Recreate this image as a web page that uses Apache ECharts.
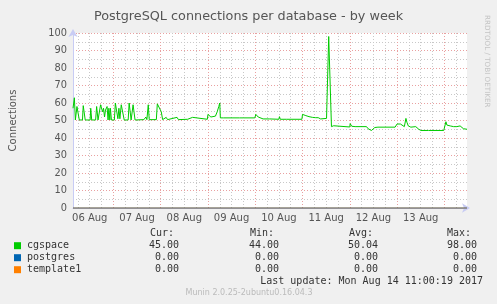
<!DOCTYPE html>
<html><head><meta charset="utf-8">
<script src="https://cdn.jsdelivr.net/npm/echarts@6/dist/echarts.min.js"></script>
<style>html,body{margin:0;padding:0;background:#F0F0F0;}#c{width:497px;height:304px;}</style>
</head><body><div id="c"></div>
<script>
// time in hours since 06 Aug 00:00
const hours = [3.5,4.2,4.7,5.5,6.2,6.7,8.3,8.7,9.2,9.7,12.2,12.5,13,15,15.5,16.2,17,17.5,18,18.5,19,19.5,20,20.8,21.3,21.7,22.2,22.5,23,24.5,25,25.8,26.3,26.8,27.3,28,29,29.5,31.5,32,32.5,33,33.5,34,34.5,35,39.5,40.5,41,41.7,42.2,45.8,46.3,47,48.3,49,50.8,51.5,56.3,57,61.7,62,62.5,64.2,64.8,71.7,72,72.8,73.5,74.2,75.8,76.7,77.5,78,78.3,80,84.7,85.5,88,88.5,90,95.8,96.3,97.5,98.3,100,103.3,103.7,104.2,108,108.3,108.7,112,112.2,112.5,119.7,120,120.8,121,121.7,122.5,123.3,124.2,125,126.7,128,129.2,130,132.2,132.7,133.3,134,134.7,135.8,136,144,144.2,145,146.7,152.5,153.3,155,155.8,156.7,158.3,167,168,168.8,169.7,170.5,171.7,172.5,173,173.7,175,177.5,178.3,178.8,180,184,184.2,185,191.7,192,192.8,193.3,194.2,195,196.7,198.3,200,200.8,201.7,203.5];
const cgspace = [57,63,50.3,58,58.5,50.3,50.3,58.5,58.5,50.3,50.3,57,50.3,50.3,58,50.3,50.3,59,59.5,55,57,52,56,58,50.3,57,50.3,57,50.3,50.3,60,59,51,57,51,59,59,50.3,50.3,60,60,50.3,50.3,59,59,50.3,50.5,52,50.5,59,50.5,50.5,59.5,59,55,50.5,51.8,50.5,51.8,50.5,50.7,51.5,50.7,51.8,50.7,50.7,53.5,53,52,51.5,52.5,55,58,60,51.5,51.5,51.5,52,51.5,52.5,51.5,51.5,53.5,52,53,50.9,50.9,51.8,50.9,50.7,52.2,50.7,50.7,51.8,50.7,50.7,53.5,52.8,54,52.8,53.2,52.2,52.2,51.8,51.6,51.6,50.9,50.7,51.2,50.7,98,97,46.5,47,46.3,46.3,48.2,46.7,46.5,46.5,45.3,44.3,45.3,46,46.2,46.2,48,47.4,48,46.9,46.5,51.2,49,46.9,46.2,46.5,46.2,45.2,44.3,44.3,45.2,44.3,44.3,45.7,49.3,47.4,46.5,46.9,46.5,46.5,46.9,46.2,45.3,45];
const zeroHours = [3.5, 203.5];
const postgres = [0, 0];
const template1 = [0, 0];
const dayLabelHours = [12,36,60,84,108,132,156,180];
const dayLabels = ['06 Aug','07 Aug','08 Aug','09 Aug','10 Aug','11 Aug','12 Aug','13 Aug'];
const dayBoundaryHours = [24,48,72,96,120,144,168,192];
const sixHourHours = [6,12,18,30,36,42,54,60,66,78,84,90,102,108,114,126,132,138,150,156,162,174,180,186,198];
const seriesNames = ['cgspace','postgres','template1'];
const seriesColors = ['#00CC00','#0066B3','#FF8000'];
const statHeaders = ['Cur:','Min:','Avg:','Max:'];
const statValues = [
  ['45.00','44.00','50.04','98.00'],
  ['0.00','0.00','0.00','0.00'],
  ['0.00','0.00','0.00','0.00']
];
const lastUpdate = 'Last update: Mon Aug 14 11:00:19 2017';
const footer = 'Munin 2.0.25-2ubuntu0.16.04.3';

const chart = echarts.init(document.getElementById('c'));
const SANS = 'DejaVu Sans', MONO = 'DejaVu Sans Mono';
const grey = {color:'#C8C8C8', type:[1,2], width:1};
const red = {color:'#E9A0A0', type:[1,2], width:1};
const baseX = {type:'value', min:3.5, max:203.5, gridIndex:0};

const graphics = [];
const colRight = [179, 279, 378, 477];
const colLeft = [150, 250, 349, 447];
statHeaders.forEach((h,i)=>graphics.push({type:'text', x:colLeft[i], y:233.5, style:{text:h, font:'10px '+MONO, fill:'#333', textVerticalAlign:'middle'}}));
seriesNames.forEach((n,r)=>{
  const y = 245.7 + r*12;
  graphics.push({type:'rect', shape:{x:14, y:y-3.5, width:7, height:7}, style:{fill:seriesColors[r]}});
  graphics.push({type:'text', x:27, y:y, style:{text:n, font:'10px '+MONO, fill:'#333', textVerticalAlign:'middle'}});
  statValues[r].forEach((v,i)=>graphics.push({type:'text', x:colRight[i], y:y, style:{text:v, font:'10px '+MONO, fill:'#333', textAlign:'right', textVerticalAlign:'middle'}}));
});
graphics.push({type:'text', x:483, y:281.7, style:{text:lastUpdate, font:'10px '+MONO, fill:'#333', textAlign:'right', textVerticalAlign:'middle'}});
graphics.push({type:'text', x:249, y:293, style:{text:footer, font:'8px '+SANS, fill:'#BBBBBB', textAlign:'center', textVerticalAlign:'middle'}});
graphics.push({type:'text', x:487, y:15, rotation:-Math.PI/2, style:{text:'RRDTOOL / TOBI OETIKER', font:'7.2px '+SANS, fill:'#C4C4C4', textAlign:'left', textVerticalAlign:'middle'}});

chart.setOption({
  animation:false,
  backgroundColor:'#F0F0F0',
  title:{text:'PostgreSQL connections per database - by week', left:'center', top:5,
    textStyle:{fontFamily:SANS, fontSize:12.8, fontWeight:'normal', color:'#555'}},
  grid:{left:67, top:33, width:400, height:175, show:true, backgroundColor:'#FFFFFF', borderWidth:0},
  xAxis:[
    Object.assign({}, baseX, {
      axisLine:{show:true, lineStyle:{color:'#C8CCF4', width:1}, symbol:['none','arrow'], symbolSize:[7,8], symbolOffset:[0,3]},
      axisTick:{show:false},
      axisLabel:{customValues:dayLabelHours, margin:5, fontFamily:SANS, fontSize:10, color:'#555',
        formatter:(v)=>dayLabels[dayLabelHours.indexOf(Math.round(v))] || ''},
      splitLine:{show:false}
    }),
    Object.assign({}, baseX, {
      axisLine:{show:false}, axisLabel:{show:false},
      axisTick:{show:false, customValues:sixHourHours},
      splitLine:{show:true, customValues:sixHourHours, lineStyle:grey}
    }),
    Object.assign({}, baseX, {
      axisLine:{show:false}, axisLabel:{show:false},
      axisTick:{show:false, customValues:dayBoundaryHours},
      splitLine:{show:true, customValues:dayBoundaryHours, lineStyle:red}
    })
  ],
  yAxis:{type:'value', min:0, max:100, interval:10,
    name:'Connections', nameLocation:'middle', nameGap:55,
    nameTextStyle:{fontFamily:SANS, fontSize:10, color:'#555'},
    axisLine:{show:true, lineStyle:{color:'#C8CCF4', width:1}, symbol:['none','arrow'], symbolSize:[7,8], symbolOffset:[0,4]},
    axisTick:{show:false},
    axisLabel:{margin:6, fontFamily:SANS, fontSize:9.8, color:'#555'},
    splitLine:{show:true, lineStyle:red},
    minorTick:{show:false, splitNumber:2},
    minorSplitLine:{show:true, lineStyle:grey}
  },
  graphic:graphics,
  series:[
    {name:'cgspace', type:'line', xAxisIndex:0, showSymbol:false, symbol:'none',
      data:hours.map((h,i)=>[h,cgspace[i]]), lineStyle:{color:seriesColors[0], width:1}, itemStyle:{color:seriesColors[0]}, z:5},
    {name:'postgres', type:'line', xAxisIndex:0, symbol:'none', clip:false,
      data:zeroHours.map((h,i)=>[h,postgres[i]]), lineStyle:{color:seriesColors[1], width:1}, z:3},
    {name:'template1', type:'line', xAxisIndex:0, symbol:'none', clip:false,
      data:zeroHours.map((h,i)=>[h,template1[i]]), lineStyle:{color:seriesColors[2], width:1, opacity:0.6}, z:4}
  ]
});
</script></body></html>
